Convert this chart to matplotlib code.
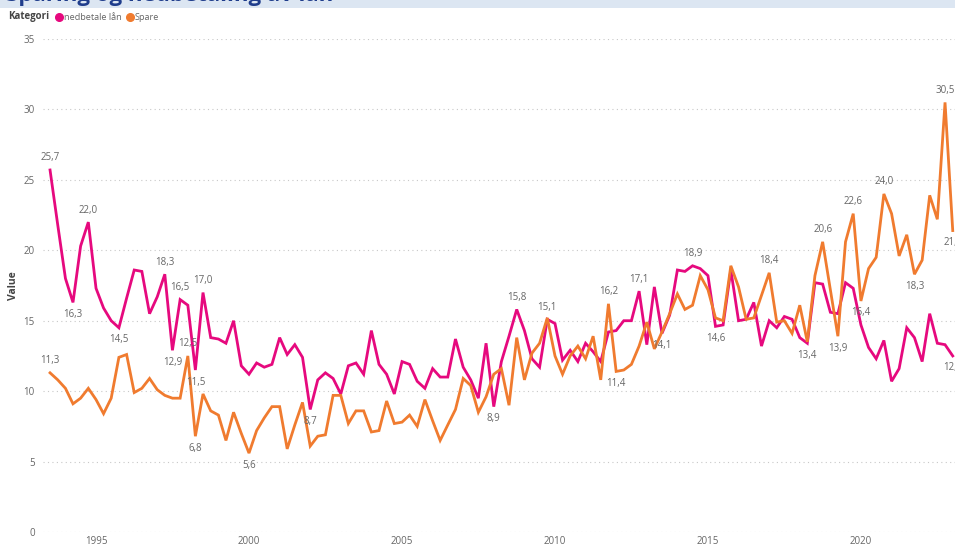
import numpy as np
import pandas as pd
import matplotlib
matplotlib.use("Agg")
import matplotlib.pyplot as plt
import matplotlib.dates as mdates
from matplotlib.lines import Line2D
from matplotlib.patches import Rectangle

plt.rcParams['font.family'] = ['Open Sans', 'DejaVu Sans']

# --- data (quarterly) ---
quarters = pd.date_range("1993-07-01", periods=119, freq="QS")

nedbetale = [
    25.7, 21.8, 18.0, 16.3, 20.3, 22.0, 17.3, 15.9, 15.0, 14.5,
    16.6, 18.6, 18.5, 15.5, 16.7, 18.3, 12.9, 16.5, 16.1, 11.5,
    17.0, 13.8, 13.7, 13.4, 15.0, 11.8, 11.2, 12.0, 11.7, 11.9,
    13.8, 12.6, 13.3, 12.4, 8.7, 10.8, 11.3, 10.9, 9.8, 11.8,
    12.0, 11.2, 14.3, 11.9, 11.2, 9.8, 12.1, 11.9, 10.7, 10.2,
    11.6, 11.0, 11.0, 13.7, 11.7, 10.8, 9.5, 13.4, 8.9, 12.1,
    13.9, 15.8, 14.3, 12.3, 11.7, 15.1, 14.8, 12.2, 12.9, 12.1,
    13.4, 12.8, 12.1, 14.2, 14.3, 15.0, 15.0, 17.1, 13.3, 17.4,
    14.1, 15.4, 18.6, 18.5, 18.9, 18.7, 18.2, 14.6, 14.7, 18.6,
    15.0, 15.1, 16.3, 13.2, 15.0, 14.5, 15.3, 15.1, 13.8, 13.4,
    17.7, 17.6, 15.6, 15.5, 17.7, 17.3, 14.7, 13.1, 12.3, 13.6,
    10.7, 11.6, 14.5, 13.8, 12.1, 15.5, 13.4, 13.3, 12.5,
]

spare = [
    11.3, 10.8, 10.2, 9.1, 9.5, 10.2, 9.4, 8.4, 9.5, 12.4,
    12.6, 9.9, 10.2, 10.9, 10.1, 9.7, 9.5, 9.5, 12.5, 6.8,
    9.8, 8.6, 8.3, 6.5, 8.5, 7.0, 5.6, 7.2, 8.1, 8.9,
    8.9, 5.9, 7.6, 9.2, 6.1, 6.8, 6.9, 9.7, 9.7, 7.7,
    8.6, 8.6, 7.1, 7.2, 9.3, 7.7, 7.8, 8.3, 7.5, 9.4,
    7.9, 6.5, 7.6, 8.7, 10.9, 10.4, 8.5, 9.6, 11.2, 11.6,
    9.0, 13.8, 10.8, 12.7, 13.4, 15.2, 12.5, 11.2, 12.5, 13.2,
    12.3, 13.9, 10.8, 16.2, 11.4, 11.5, 11.9, 13.2, 14.9, 13.0,
    14.2, 15.5, 16.9, 15.8, 16.1, 18.2, 17.2, 15.2, 15.0, 18.9,
    17.4, 15.1, 15.2, 16.8, 18.4, 14.9, 15.0, 14.1, 16.1, 13.5,
    18.2, 20.6, 17.2, 13.9, 20.6, 22.6, 16.4, 18.7, 19.5, 24.0,
    22.6, 19.6, 21.1, 18.3, 19.3, 23.9, 22.2, 30.5, 21.4,
]

# index of labelled points, with +1 above / -1 below
nedbetale_labels = {0: 1, 3: -1, 5: 1, 9: -1, 15: 1, 16: -1, 17: 1, 19: -1, 20: 1,
                    34: -1, 58: -1, 61: 1, 65: 1, 77: 1, 80: -1, 84: 1, 87: -1,
                    99: -1, 118: -1}
spare_labels = {0: 1, 18: 1, 19: -1, 26: -1, 73: 1, 74: -1, 94: 1, 101: 1, 103: -1,
                105: 1, 106: -1, 109: 1, 113: -1, 117: 1, 118: -1}

year_ticks = [1995, 2000, 2005, 2010, 2015, 2020]

c_ned = "#E6097E"
c_spare = "#F07B2F"
grey = "#666666"

W, H = 955, 549
fig = plt.figure(figsize=(W / 100, H / 100), dpi=100)

# cut-off title band at the very top
fig.add_artist(Rectangle((0, 1 - 8 / H), 1, 8 / H, transform=fig.transFigure,
                         facecolor="#DCE6F2", edgecolor="none"))
fig.text(6 / W, 1 - 1.5 / H, "Sparing og nedbetaling av lån", fontsize=16,
         fontweight="bold", color="#1F3D8C", va="baseline", ha="left")

# legend row
ly = 1 - 17 / H
fig.text(8 / W, ly, "Kategori", fontsize=7, fontweight="bold", color="#444444", va="center")
fig.add_artist(Line2D([59 / W], [ly], marker="o", markersize=5.5, color=c_ned,
                      transform=fig.transFigure))
fig.text(64 / W, ly, "nedbetale lån", fontsize=6.6, color=grey, va="center")
fig.add_artist(Line2D([130 / W], [ly], marker="o", markersize=5.5, color=c_spare,
                      transform=fig.transFigure))
fig.text(135 / W, ly, "Spare", fontsize=6.6, color=grey, va="center")

ax = fig.add_axes([43 / W, (H - 532) / H, 1 - 43 / W, 493 / H])
ax.plot(quarters, nedbetale, color=c_ned, lw=2.0, solid_joinstyle="miter")
ax.plot(quarters, spare, color=c_spare, lw=2.0, solid_joinstyle="miter")


def put_labels(values, labels):
    for i, side in labels.items():
        txt = f"{values[i]:.1f}".replace(".", ",")
        ax.annotate(txt, (quarters[i], values[i]), xytext=(0, 12 * side),
                    textcoords="offset pixels", ha="center", va="center",
                    fontsize=7, color=grey, annotation_clip=False)


put_labels(nedbetale, nedbetale_labels)
put_labels(spare, spare_labels)

ax.set_ylim(0, 35)
ax.set_yticks(range(0, 36, 5))
ax.set_xlim(pd.Timestamp("1993-04-08"), pd.Timestamp("2023-01-28"))
ax.set_xticks([pd.Timestamp(f"{y}-01-01") for y in year_ticks])
ax.xaxis.set_major_formatter(mdates.DateFormatter("%Y"))
ax.grid(axis="y", linestyle=(0, (1, 3)), color="#C8C8C8", linewidth=0.8)
ax.set_axisbelow(True)
for s in ax.spines.values():
    s.set_visible(False)
ax.tick_params(axis="y", length=0, labelsize=7, colors=grey, pad=6)
ax.tick_params(axis="x", length=0, labelsize=7, colors=grey, pad=3)
ax.set_ylabel("Value", fontsize=7.5, fontweight="bold", color="#444444", labelpad=3)
ax.patch.set_alpha(0)

fig.savefig("out.png", dpi=100)
